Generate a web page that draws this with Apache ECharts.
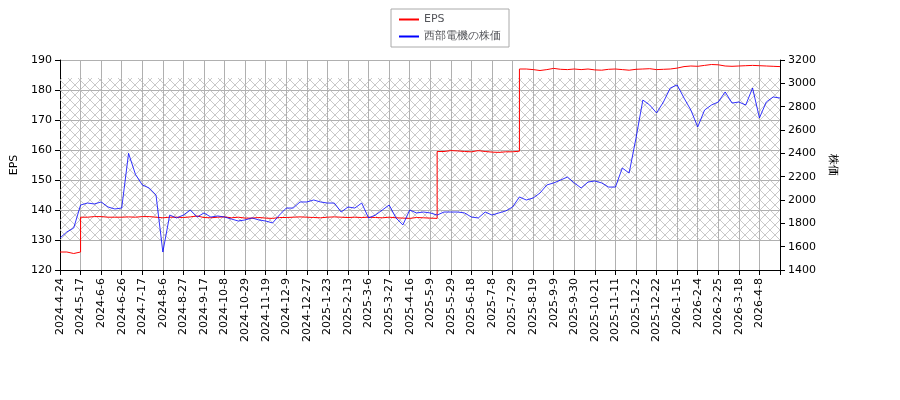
<!DOCTYPE html><html><head><meta charset="utf-8"><script src="https://cdn.jsdelivr.net/npm/echarts@6/dist/echarts.min.js"></script></head><body style="margin:0"><div id="c" style="width:900px;height:400px"></div><script>
const tickLabels=["2024-4-24","2024-5-17","2024-6-6","2024-6-26","2024-7-17","2024-8-6","2024-8-27","2024-9-17","2024-10-8","2024-10-29","2024-11-19","2024-12-9","2024-12-27","2025-1-23","2025-2-13","2025-3-6","2025-3-27","2025-4-16","2025-5-9","2025-5-29","2025-6-18","2025-7-8","2025-7-29","2025-8-19","2025-9-9","2025-9-30","2025-10-21","2025-11-11","2025-12-2","2025-12-22","2026-1-15","2026-2-4","2026-2-25","2026-3-18","2026-4-8"];
const price=[1674,1726,1760,1957,1974,1966,1983,1940,1923,1931,2400,2220,2129,2103,2043,1554,1871,1846,1871,1914,1854,1889,1854,1863,1854,1837,1820,1829,1846,1829,1820,1803,1871,1931,1931,1983,1983,2000,1983,1974,1974,1897,1940,1931,1974,1846,1871,1914,1957,1846,1786,1914,1889,1897,1889,1871,1897,1897,1897,1889,1854,1846,1897,1871,1889,1906,1940,2026,2000,2017,2060,2129,2146,2171,2197,2146,2103,2154,2163,2146,2111,2111,2274,2231,2531,2857,2814,2746,2840,2960,2986,2874,2771,2626,2771,2814,2840,2926,2831,2840,2814,2960,2703,2840,2883,2874];
const eps=[126,125.5,126,137.6,137.8,137.8,137.6,137.6,137.6,137.7,137.6,137.8,137.8,137.6,137.4,137.6,137.6,137.5,137.7,138,137.5,137.4,137.6,137.7,137.4,137.6,137.3,137.3,137.5,137.3,137.2,137.5,137.5,137.6,137.7,137.6,137.5,137.4,137.6,137.7,137.6,137.5,137.6,137.5,137.6,137.5,137.4,137.6,137.4,137.3,137.2,137.5,137.4,137.3,137.2,159.5,159.8,159.7,159.5,159.4,159.8,159.5,159.3,159.2,159.4,159.4,159.6,187,186.8,186.5,186.8,187.2,186.9,186.8,187,186.8,187,186.7,186.6,186.9,187,186.8,186.6,186.9,187,187.1,186.8,186.9,187,187.3,187.8,188,187.9,188.2,188.5,188.4,188,187.9,188,188.1,188.2,188.1,188,187.9,187.8,187.8];
const cats=price.map((_,i)=>i%3===0&&tickLabels[i/3]?tickLabels[i/3]:' '+i);
const cv=document.createElement('canvas');cv.width=10;cv.height=10;const g=cv.getContext('2d');
g.strokeStyle='#bbbbbb';g.lineWidth=0.8;g.beginPath();g.moveTo(0,0);g.lineTo(10,10);g.moveTo(10,0);g.lineTo(0,10);g.stroke();
const show=i=>i%3===0;
const ch=echarts.init(document.getElementById('c'));
const ax={color:'#000',fontSize:11,fontFamily:'DejaVu Sans'};
ch.setOption({animation:false,
legend:{top:9,left:'center',orient:'vertical',itemGap:6,padding:[5,8],borderColor:'#aaa',borderWidth:1,borderRadius:0,textStyle:{fontSize:11,fontFamily:'DejaVu Sans'},itemWidth:20,itemHeight:2,icon:'rect',data:['EPS','西部電機の株価']},
grid:{left:60,right:120,top:60,bottom:130},
xAxis:{type:'category',data:cats,boundaryGap:false,axisLine:{lineStyle:{color:'#000'}},
axisTick:{interval:show,lineStyle:{color:'#000'}},axisLabel:{...ax,rotate:90,interval:show,formatter:v=>v.startsWith(' ')?'':v},
splitLine:{show:true,interval:show,lineStyle:{color:'#b0b0b0'}}},
yAxis:[{type:'value',min:120,max:190,interval:10,name:'EPS',nameLocation:'middle',nameGap:38,nameRotate:90,nameTextStyle:ax,axisLine:{show:true,lineStyle:{color:'#000'}},axisTick:{show:true},axisLabel:ax,splitLine:{lineStyle:{color:'#b0b0b0'}}},
{type:'value',min:1400,max:3200,interval:200,name:'株価',nameLocation:'middle',nameGap:45,nameRotate:-90,nameTextStyle:ax,axisLine:{show:true,lineStyle:{color:'#000'}},axisTick:{show:true},axisLabel:{...ax,formatter:v=>String(v)},splitLine:{show:false}}],
series:[{name:'EPS',type:'line',data:eps,yAxisIndex:0,symbol:'none',step:'end',lineStyle:{color:'#ff0000',width:1},itemStyle:{color:'#ff0000'},
markArea:{silent:true,itemStyle:{color:{image:cv,repeat:'repeat'}},data:[[{yAxis:130,xAxis:cats[0]},{yAxis:184,xAxis:cats[cats.length-1]}]]}},
{name:'西部電機の株価',type:'line',data:price,yAxisIndex:1,symbol:'none',lineStyle:{color:'#0000ff',width:0.8},itemStyle:{color:'#0000ff'}}]});
</script></body></html>
